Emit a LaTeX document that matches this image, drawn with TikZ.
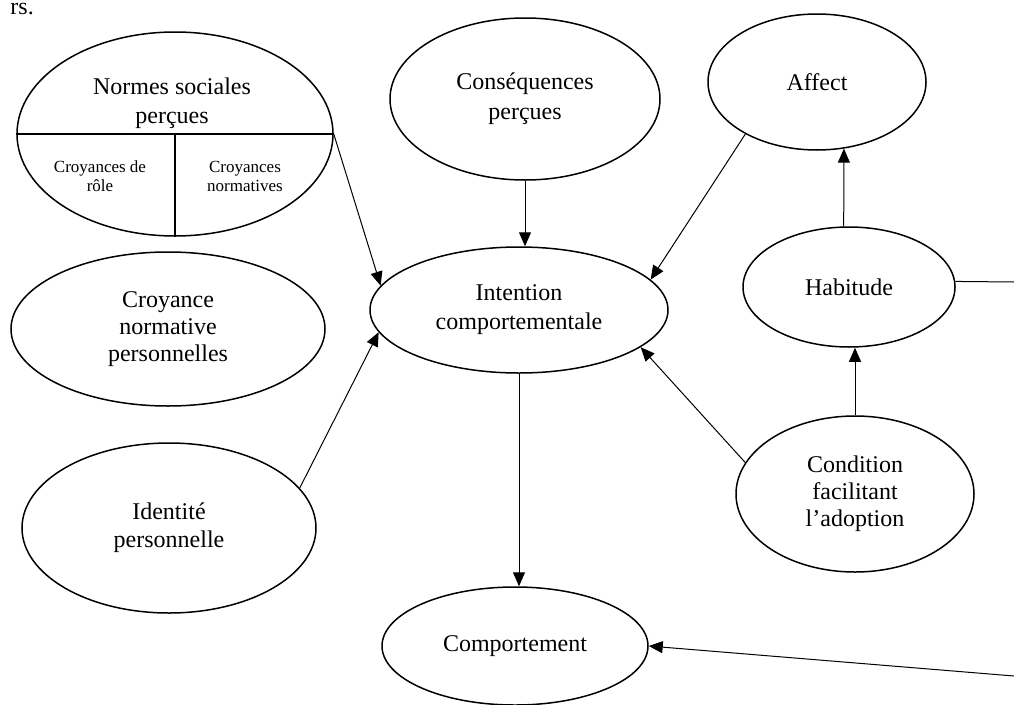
\documentclass[tikz,border=0pt]{standalone}
\usepackage{fontspec}
\setmainfont{Liberation Serif}
\usetikzlibrary{shapes.geometric,arrows.meta,calc}
\begin{document}
\begin{tikzpicture}[x=1pt,y=-1pt,
  oval/.style={ellipse, draw, line width=1.5pt, inner sep=0pt, align=center,
    font=\fontsize{24}{28}\selectfont},
  lbl/.style={align=center, inner sep=0pt, font=\fontsize{24}{29}\selectfont},
  frag/.style={inner sep=0pt, font=\fontsize{24}{29}\selectfont},
  small/.style={align=center, inner sep=0pt, font=\fontsize{17}{19}\selectfont},
  arr/.style={line width=1pt, -{Triangle[length=14pt,width=12pt]}},
  ln/.style={line width=1pt}]
\useasboundingbox (0,0) rectangle (1014,704);
\node[frag, anchor=base east] (top) at (34,14) {rs.};
% Normes sociales perçues (divided)
\node[oval, minimum width=316pt, minimum height=204pt] (nsp) at (175,134) {};
\draw[line width=1.2pt] (nsp.west) -- (nsp.east);
\draw[line width=1.2pt] (nsp.center) -- (nsp.south);
\node[lbl] (nspt) at (172,103) {Normes sociales\\perçues};
\node[small] (cr1) at (100,176) {Croyances de\\rôle};
\node[small] (cr2) at (245,176) {Croyances\\normatives};
% others
\node[oval, minimum width=270pt, minimum height=162pt, font=\fontsize{24}{30}\selectfont] (cp) at (525,99) {Conséquences\\perçues};
\node[oval, minimum width=218pt, minimum height=136pt] (aff) at (817,82) {Affect};
\node[oval, minimum width=298pt, minimum height=126pt, font=\fontsize{24}{29}\selectfont] (int) at (519,310) {Intention\\comportementale};
\node[oval, minimum width=212pt, minimum height=120pt] (hab) at (849,287) {Habitude};
\node[oval, minimum width=314pt, minimum height=154pt, font=\fontsize{24}{27}\selectfont] (cnp) at (168,329) {Croyance\\normative\\personnelles};
\node[oval, minimum width=294pt, minimum height=170pt] (idp) at (169,528) {Identité\\personnelle};
\node[oval, minimum width=238pt, minimum height=156pt, font=\fontsize{24}{27}\selectfont] (cond) at (855,494) {Condition\\facilitant\\l’adoption};
\node[oval, minimum width=266pt, minimum height=118pt] (comp) at (515,646) {Comportement};
\coordinate (hr) at (1014,282);
\coordinate (cr) at (1014,676);
% connectors
\draw[arr] (nsp.east) -- (int.170);
\draw[arr] (cp.south) -- (cp.south |- int.north);
\draw[arr] (aff.216) -- (int.13);
\draw[arr] (hab.95.7) -- (aff.-68.5);
\draw[ln] (hab.3) -- (hr);
\draw[arr] (cond.north) -- (cond.north |- hab.south);
\draw[arr] (cond.164) -- (int.-17);
\draw[arr] (idp.17) -- (int.189);
\draw[arr] (int.south) -- (int.south |- comp.north);
\draw[arr] (cr) -- (comp.east);
\end{tikzpicture}
\end{document}
